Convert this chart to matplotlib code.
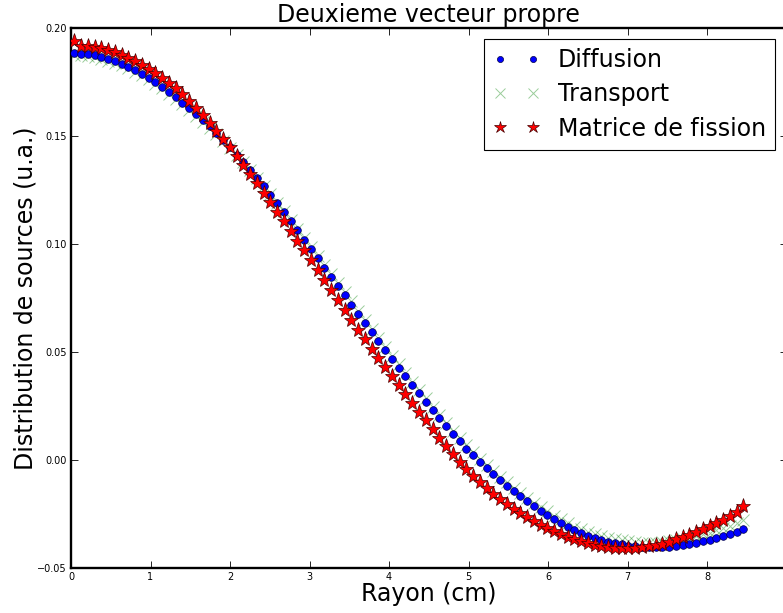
import matplotlib
matplotlib.use("Agg")
import matplotlib.pyplot as plt

# Radius grid (cm)
rayon = [
    0.0425, 0.1275, 0.2125, 0.2975, 0.3825, 0.4675, 0.5525, 0.6375, 0.7225, 0.8075,
    0.8925, 0.9775, 1.0625, 1.1475, 1.2325, 1.3175, 1.4025, 1.4875, 1.5725, 1.6575,
    1.7425, 1.8275, 1.9125, 1.9975, 2.0825, 2.1675, 2.2525, 2.3375, 2.4225, 2.5075,
    2.5925, 2.6775, 2.7625, 2.8475, 2.9325, 3.0175, 3.1025, 3.1875, 3.2725, 3.3575,
    3.4425, 3.5275, 3.6125, 3.6975, 3.7825, 3.8675, 3.9525, 4.0375, 4.1225, 4.2075,
    4.2925, 4.3775, 4.4625, 4.5475, 4.6325, 4.7175, 4.8025, 4.8875, 4.9725, 5.0575,
    5.1425, 5.2275, 5.3125, 5.3975, 5.4825, 5.5675, 5.6525, 5.7375, 5.8225, 5.9075,
    5.9925, 6.0775, 6.1625, 6.2475, 6.3325, 6.4175, 6.5025, 6.5875, 6.6725, 6.7575,
    6.8425, 6.9275, 7.0125, 7.0975, 7.1825, 7.2675, 7.3525, 7.4375, 7.5225, 7.6075,
    7.6925, 7.7775, 7.8625, 7.9475, 8.0325, 8.1175, 8.2025, 8.2875, 8.3725, 8.4575,
]

diffusion = [
    0.1883, 0.1881, 0.1878, 0.1873, 0.1866, 0.1857, 0.1847, 0.1835, 0.1821, 0.1806,
    0.1789, 0.1770, 0.1750, 0.1728, 0.1704, 0.1680, 0.1655, 0.1629, 0.1602, 0.1574,
    0.1545, 0.1515, 0.1482, 0.1448, 0.1414, 0.1379, 0.1343, 0.1306, 0.1267, 0.1228,
    0.1188, 0.1147, 0.1105, 0.1063, 0.1020, 0.0977, 0.0934, 0.0891, 0.0848, 0.0805,
    0.0762, 0.0719, 0.0676, 0.0634, 0.0592, 0.0550, 0.0509, 0.0468, 0.0428, 0.0388,
    0.0348, 0.0309, 0.0270, 0.0231, 0.0193, 0.0156, 0.0120, 0.0086, 0.0053, 0.0021,
    -0.0009, -0.0038, -0.0066, -0.0093, -0.0119, -0.0144, -0.0168, -0.0191, -0.0213, -0.0234,
    -0.0254, -0.0273, -0.0291, -0.0308, -0.0325, -0.0339, -0.0351, -0.0362, -0.0371, -0.0379,
    -0.0386, -0.0391, -0.0396, -0.0400, -0.0402, -0.0404, -0.0404, -0.0403, -0.0401, -0.0398,
    -0.0394, -0.0389, -0.0383, -0.0377, -0.0370, -0.0362, -0.0353, -0.0343, -0.0332, -0.0320,
]

transport = [
    0.1875, 0.1873, 0.1870, 0.1865, 0.1858, 0.1849, 0.1839, 0.1827, 0.1813, 0.1798,
    0.1781, 0.1762, 0.1742, 0.1720, 0.1696, 0.1672, 0.1647, 0.1621, 0.1594, 0.1566,
    0.1539, 0.1510, 0.1478, 0.1445, 0.1412, 0.1378, 0.1343, 0.1307, 0.1269, 0.1231,
    0.1192, 0.1152, 0.1111, 0.1070, 0.1028, 0.0986, 0.0944, 0.0902, 0.0860, 0.0818,
    0.0776, 0.0734, 0.0691, 0.0649, 0.0607, 0.0565, 0.0524, 0.0483, 0.0443, 0.0403,
    0.0363, 0.0324, 0.0285, 0.0246, 0.0208, 0.0171, 0.0135, 0.0101, 0.0068, 0.0036,
    0.0006, -0.0023, -0.0051, -0.0078, -0.0104, -0.0129, -0.0153, -0.0176, -0.0198, -0.0219,
    -0.0238, -0.0257, -0.0274, -0.0291, -0.0308, -0.0321, -0.0333, -0.0344, -0.0352, -0.0360,
    -0.0367, -0.0371, -0.0376, -0.0380, -0.0382, -0.0383, -0.0382, -0.0379, -0.0376, -0.0371,
    -0.0366, -0.0359, -0.0352, -0.0344, -0.0336, -0.0326, -0.0316, -0.0304, -0.0292, -0.0278,
]

fission = [
    0.1941, 0.1918, 0.1916, 0.1912, 0.1906, 0.1898, 0.1887, 0.1875, 0.1861, 0.1846,
    0.1829, 0.1811, 0.1791, 0.1769, 0.1746, 0.1721, 0.1693, 0.1663, 0.1631, 0.1597,
    0.1562, 0.1525, 0.1487, 0.1448, 0.1408, 0.1367, 0.1325, 0.1282, 0.1238, 0.1194,
    0.1150, 0.1105, 0.1060, 0.1015, 0.0970, 0.0925, 0.0879, 0.0833, 0.0787, 0.0741,
    0.0695, 0.0649, 0.0604, 0.0559, 0.0515, 0.0472, 0.0429, 0.0387, 0.0345, 0.0304,
    0.0263, 0.0223, 0.0183, 0.0143, 0.0104, 0.0065, 0.0028, -0.0007, -0.0040, -0.0072,
    -0.0102, -0.0130, -0.0157, -0.0182, -0.0205, -0.0226, -0.0246, -0.0265, -0.0283, -0.0300,
    -0.0316, -0.0331, -0.0344, -0.0355, -0.0366, -0.0376, -0.0385, -0.0392, -0.0398, -0.0403,
    -0.0406, -0.0408, -0.0408, -0.0407, -0.0404, -0.0400, -0.0394, -0.0387, -0.0378, -0.0368,
    -0.0357, -0.0345, -0.0333, -0.0320, -0.0306, -0.0292, -0.0277, -0.0261, -0.0242, -0.0212,
]

x_ticks = [0, 1, 2, 3, 4, 5, 6, 7, 8]
y_ticks = [-0.05, 0.0, 0.05, 0.10, 0.15, 0.20]
y_tick_labels = ["\u22120.05", "0.00", "0.05", "0.10", "0.15", "0.20"]

W, H = 783, 613
fig = plt.figure(figsize=(W / 100, H / 100), dpi=100)
fig.patch.set_facecolor("white")

# axes box in pixels: left 71, top 28, bottom 568, x=9 falls just past the right edge
ax = fig.add_axes([71 / W, (H - 568) / H, (786.5 - 71) / W, 540 / H])

ax.plot(rayon, diffusion, "o", color="#0000ff", mec="#000044", mew=0.5, ms=5.5,
        label="Diffusion", zorder=3)
ax.plot(rayon, transport, "x", color="#008000", alpha=0.4, ms=9, mew=0.7,
        label="Transport", zorder=2)
ax.plot(rayon, fission, "*", color="#ff0000", mec="#440000", mew=0.5, ms=11,
        label="Matrice de fission", zorder=4)

ax.set_xlim(0, 9)
ax.set_ylim(-0.05, 0.20)
ax.set_xticks(x_ticks)
ax.set_yticks(y_ticks)
ax.set_yticklabels(y_tick_labels)

ax.tick_params(direction="in", top=True, right=True, labelsize=7, length=5,
               width=0.6, pad=3, colors="black")
for sp in ax.spines.values():
    sp.set_linewidth(1.7)

ax.set_title("Deuxieme vecteur propre", fontsize=17, pad=4)
ax.set_xlabel("Rayon (cm)", fontsize=17, labelpad=0)
ax.set_ylabel("Distribution de sources (u.a.)", fontsize=17, labelpad=0)

leg = ax.legend(loc="upper right", bbox_to_anchor=(775 / W, 1 - 39 / H),
                bbox_transform=fig.transFigure, borderaxespad=0, numpoints=2,
                fontsize=17, fancybox=False, framealpha=1, handlelength=2.0,
                handletextpad=0.76, borderpad=0.38, labelspacing=0.44, markerscale=0.8)
leg.get_frame().set_edgecolor("black")
leg.get_frame().set_linewidth(0.8)

fig.savefig("out.png", dpi=100, facecolor="white")
